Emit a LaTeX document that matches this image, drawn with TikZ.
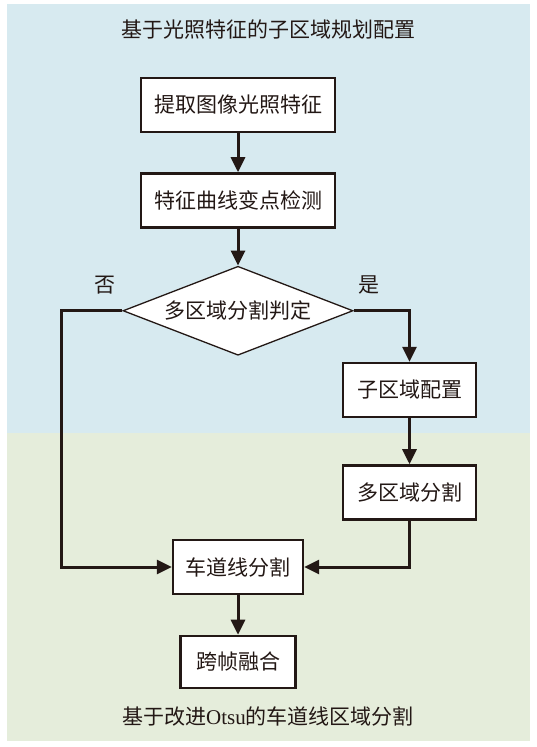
\documentclass[tikz,border=0pt]{standalone}
\usepackage{fontspec}
\setmainfont{Liberation Serif}
\newfontfamily\cjk{Noto Sans CJK SC}
\usetikzlibrary{shapes.geometric,arrows.meta,positioning}
\definecolor{upperbg}{HTML}{D7EAF0}
\definecolor{lowerbg}{HTML}{E5EDDB}
\definecolor{ink}{HTML}{231815}

\begin{document}
\begin{tikzpicture}[
    x=1pt, y=-1pt,
    font=\cjk\fontsize{21}{24}\selectfont,
    stepbox/.style={draw=ink, fill=white, line width=2.4pt, minimum height=54pt, inner xsep=8pt, inner ysep=2pt, text=ink},
    judge/.style={diamond, aspect=2.58, draw=ink, fill=white, line width=1.3pt, minimum width=230pt, minimum height=89pt, inner sep=0pt, text=ink},
    title/.style={text=ink, font=\cjk\fontsize{21}{24}\selectfont},
    arrow/.style={-{Triangle[length=15pt,width=14pt]}, line width=3pt, draw=ink},
    node distance=40pt
]
\useasboundingbox (0,0) rectangle (536,747);
\fill[upperbg] (7,4) rectangle (530,433);
\fill[lowerbg] (7,433) rectangle (530,741);

\node[title] (toptitle) at (268,30) {基于光照特征的子区域规划配置};
\node[stepbox, minimum width=194pt] (extract) at (238,105) {提取图像光照特征};
\node[stepbox, minimum width=194pt, below=39pt of extract] (detect) {特征曲线变点检测};
\node[judge, below=37pt of detect] (decide) {多区域分割判定};
\node[text=ink] (no) at (105,285) {否};
\node[text=ink] (yes) at (369,285) {是};
\node[stepbox, minimum width=133pt] (subcfg) at (409.5,390) {子区域配置};
\node[stepbox, minimum width=133pt, below=46pt of subcfg] (multi) {多区域分割};
\node[stepbox, minimum width=130pt] (lane) at (238,567) {车道线分割};
\node[stepbox, minimum width=115pt, minimum height=52pt, below=39.5pt of lane] (fuse) {跨帧融合};
\node[title] (bottomtitle) at (268,716) {基于改进{\rmfamily Otsu}的车道线区域分割};

\coordinate (nocorner) at (61,567);

\foreach \i/\j in {extract/detect, detect/decide, subcfg/multi, lane/fuse}
  \draw[arrow] (\i.south) -- (\j.north);
\draw[arrow] (decide.east) -| (subcfg.north);
\draw[arrow] (decide.west) -| (nocorner) -- (lane.west);
\draw[arrow] (multi.south) |- (lane.east);
\end{tikzpicture}
\end{document}
